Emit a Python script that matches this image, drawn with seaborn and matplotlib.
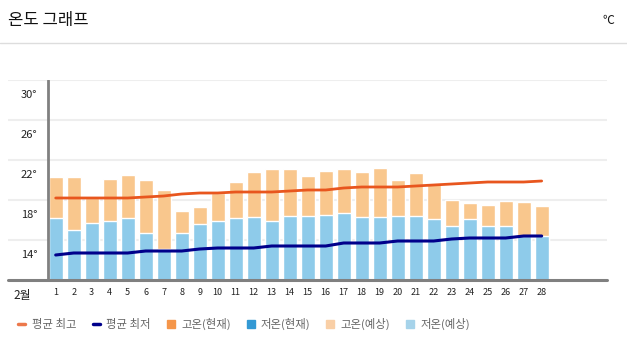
import numpy as np
import pandas as pd
import matplotlib
matplotlib.use("Agg")
import matplotlib.pyplot as plt
from matplotlib.lines import Line2D
import seaborn as sns

# ---- data ----
days = [str(d) for d in range(1, 29)]
high_forecast = [22.3, 22.3, 20.2, 22.1, 22.5, 22.0, 21.0, 18.9, 19.3, 20.7,
                 21.8, 22.8, 23.1, 23.1, 22.4, 22.9, 23.1, 22.8, 23.2, 22.0,
                 22.7, 21.7, 20.0, 19.7, 19.5, 19.9, 19.8, 19.4]
low_forecast = [18.2, 17.0, 17.7, 17.9, 18.2, 16.7, 15.1, 16.7, 17.6, 17.9,
                18.2, 18.3, 17.9, 18.4, 18.4, 18.5, 18.7, 18.3, 18.3, 18.4,
                18.4, 18.1, 17.4, 18.1, 17.4, 17.4, 16.4, 16.4]
avg_high = [20.2, 20.2, 20.2, 20.2, 20.2, 20.3, 20.4, 20.6, 20.7, 20.7,
            20.8, 20.8, 20.8, 20.9, 21.0, 21.0, 21.2, 21.3, 21.3, 21.3,
            21.4, 21.5, 21.6, 21.7, 21.8, 21.8, 21.8, 21.9]
avg_low = [14.5, 14.7, 14.7, 14.7, 14.7, 14.9, 14.9, 14.9, 15.1, 15.2,
           15.2, 15.2, 15.4, 15.4, 15.4, 15.4, 15.7, 15.7, 15.7, 15.9,
           15.9, 15.9, 16.1, 16.2, 16.2, 16.2, 16.4, 16.4]
ytick_values = [14, 18, 22, 26, 30]
ytick_labels = ["14°", "18°", "22°", "26°", "30°"]
grid_values = [16, 20, 24, 28, 32]
legend_labels = ["평균 최고", "평균 최저", "고온(현재)", "저온(현재)", "고온(예상)", "저온(예상)"]
month_label = "2월"
title = "온도 그래프"
unit = "℃"

df = pd.DataFrame({"day": days, "high": high_forecast, "low": low_forecast,
                   "avg_high": avg_high, "avg_low": avg_low})
df["pos"] = np.arange(len(df))

sns.set_theme(style="white")
plt.rcParams["font.family"] = ["Noto Sans CJK KR", "DejaVu Sans"]

C_HIGH_NOW = "#F5964A"
C_LOW_NOW = "#3399D4"
C_HIGH_FC = "#F9C78D"
C_LOW_FC = "#8ECBEA"
C_AVG_HIGH = "#E8561E"
C_AVG_LOW = "#00008B"

W, H = 627, 354
fig = plt.figure(figsize=(W / 100, H / 100), dpi=100)
ax = fig.add_axes([8 / W, (H - 280) / H, (607 - 8) / W, 200 / H])

sns.barplot(data=df, x="day", y="high", color=C_HIGH_FC, width=0.76,
            saturation=1, ax=ax, zorder=2)
sns.barplot(data=df, x="day", y="low", color=C_LOW_FC, width=0.76,
            saturation=1, ax=ax, zorder=3)
sns.lineplot(data=df, x="pos", y="avg_high", color=C_AVG_HIGH, linewidth=2,
             ax=ax, zorder=4)
sns.lineplot(data=df, x="pos", y="avg_low", color=C_AVG_LOW, linewidth=2.2,
             ax=ax, zorder=4)

ax.set_xlim(-2.65, 30.63)
ax.set_ylim(12, 32)
for g in grid_values:
    ax.axhline(g, color="#eeeeee", linewidth=1.5, zorder=0)
ax.axhline(12, color="#808080", linewidth=2.2, zorder=5, clip_on=False)
ax.plot([-0.43, -0.43], [12, 32], color="#808080", linewidth=2, zorder=5)

for s in ax.spines.values():
    s.set_visible(False)
ax.set_xlabel("")
ax.set_ylabel("")
ax.set_yticks(ytick_values)
ax.set_yticklabels(ytick_labels, fontsize=8, color="#222222", va="bottom")
ax.tick_params(axis="y", length=0, pad=-21)
ax.tick_params(axis="x", length=0, pad=6, labelsize=6.5, labelcolor="#222222")
ax.grid(False)
ax.text(-1.87, -0.08, month_label, transform=ax.get_xaxis_transform(),
        ha="center", va="center", fontsize=8.5, color="#222222")

# title bar
fig.text(8 / W, 1 - 20 / H, title, fontsize=12, va="center", ha="left", color="#111111")
fig.text(614 / W, 1 - 20 / H, unit, fontsize=8.5, va="center", ha="right", color="#111111")
fig.add_artist(Line2D([0, 1], [1 - 43 / H, 1 - 43 / H], color="#dddddd", linewidth=1))

handles = [
    Line2D([], [], color=C_AVG_HIGH, linewidth=2.5, alpha=0.8),
    Line2D([], [], color=C_AVG_LOW, linewidth=2.5),
    Line2D([], [], marker="s", linestyle="none", color=C_HIGH_NOW, markersize=5.5),
    Line2D([], [], marker="s", linestyle="none", color=C_LOW_NOW, markersize=5.5),
    Line2D([], [], marker="s", linestyle="none", color="#F9CFA6", markersize=5.5),
    Line2D([], [], marker="s", linestyle="none", color="#A6D3EA", markersize=5.5),
]
fig.legend(handles, legend_labels, loc="center left", bbox_to_anchor=(18 / W, 1 - 324 / H),
           ncol=6, frameon=False, fontsize=8.2, labelcolor="#666666",
           handlelength=0.6, handletextpad=0.6, columnspacing=1.45, borderpad=0,
           borderaxespad=0)

fig.savefig("out.png", dpi=100)
